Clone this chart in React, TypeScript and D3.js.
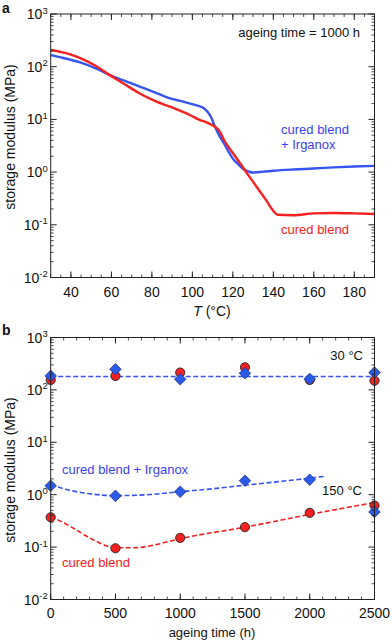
import React from "react";
import * as d3 from "d3";

// ---------- Panel a: storage modulus vs temperature (ageing time = 1000 h) ----------
const blueT = [30, 35, 40, 46, 52, 59, 66, 74, 82, 89, 95, 99, 103, 105.5, 107.5, 109.5, 111, 113, 116, 118, 120, 122, 124, 126, 128, 130, 135, 140, 150, 160, 170, 180, 190];
const blueE = [166, 150, 135, 116, 94, 70, 55, 42, 32, 25, 22, 20, 18, 16.5, 14, 10.5, 7.5, 5.2, 3.3, 2.4, 1.8, 1.5, 1.25, 1.1, 1.02, 0.98, 1.02, 1.06, 1.12, 1.17, 1.23, 1.28, 1.31];
const redT = [30, 35, 40, 46, 52, 59, 66, 74, 82, 89, 95, 99, 103, 107, 111, 113, 116, 120, 124, 128, 132, 136, 140, 142, 150, 160, 170, 180, 190];
const redE = [207, 190, 170, 138, 105, 70, 48, 31, 22, 17.4, 14, 12, 10, 8.8, 7.3, 6.3, 3.85, 2.3, 1.4, 0.84, 0.51, 0.31, 0.184, 0.155, 0.152, 0.165, 0.168, 0.165, 0.16];

const topXTicks = [40, 60, 80, 100, 120, 140, 160, 180];
const decades = [-2, -1, 0, 1, 2, 3];

// ---------- Panel b: storage modulus vs ageing time ----------
const ageTime = [0, 500, 1000, 1500, 2000, 2500];
const red30 = [155, 185, 214, 270, 155, 150];
const blue30 = [185, 247, 160, 208, 162, 214];
const red150 = [0.37, 0.095, 0.15, 0.24, 0.45, 0.62];
const blue150 = [1.48, 0.95, 1.14, 1.85, 1.93, 0.47];

const fit30T = [0, 2500];
const fit30E = [180, 180];
const blueFitT = [0, 150, 300, 500, 770, 1000, 1280, 1500, 1800, 2115];
const blueFitE = [1.55, 1.21, 1.04, 0.96, 1.01, 1.14, 1.32, 1.52, 1.82, 2.24];
const redFitT = [0, 150, 300, 500, 650, 800, 1000, 1500, 2000, 2500];
const redFitE = [0.386, 0.25, 0.15, 0.098, 0.097, 0.11, 0.145, 0.24, 0.42, 0.71];

const botXTicks = [0, 500, 1000, 1500, 2000, 2500];

const RED = "#f52020";
const BLUE = "#3654f0";
const BLUE_TXT = "#3a3ff0";
const AX = "#222";
const FONT = "'Liberation Sans', Arial, Helvetica, sans-serif";

type Pt = [number, number];

function LogYAxis({ y, x0, x1 }: { y: d3.ScaleLogarithmic<number, number>; x0: number; x1: number }) {
  const minor: number[] = [];
  for (let d = -2; d < 3; d++) for (let k = 2; k <= 9; k++) minor.push(k * Math.pow(10, d));
  return (
    <g>
      {minor.map((v, i) => (
        <g key={"m" + i}>
          <line x1={x0} x2={x0 + 3} y1={y(v)} y2={y(v)} stroke={AX} strokeWidth={0.8} />
          <line x1={x1} x2={x1 - 3} y1={y(v)} y2={y(v)} stroke={AX} strokeWidth={0.8} />
        </g>
      ))}
      {decades.map((d) => {
        const v = Math.pow(10, d);
        return (
          <g key={"M" + d}>
            <line x1={x0} x2={x0 + 6} y1={y(v)} y2={y(v)} stroke={AX} strokeWidth={1} />
            <line x1={x1} x2={x1 - 6} y1={y(v)} y2={y(v)} stroke={AX} strokeWidth={1} />
            <text x={x0 - 3} y={y(v) + 5} textAnchor="end" fontSize={14} fill="#111">
              10
              <tspan dy={-5.5} fontSize={9.5}>{String(d).replace("-", "-")}</tspan>
            </text>
          </g>
        );
      })}
    </g>
  );
}

function XTicks({ x, majors, minorStep, domain, y0, y1, labelY }: { x: d3.ScaleLinear<number, number>; majors: number[]; minorStep: number; domain: [number, number]; y0: number; y1: number; labelY: number }) {
  const minor = d3.range(domain[0], domain[1] + 0.001, minorStep);
  return (
    <g>
      {minor.map((v, i) => (
        <g key={"m" + i}>
          <line x1={x(v)} x2={x(v)} y1={y0} y2={y0 - 3} stroke={AX} strokeWidth={0.8} />
          <line x1={x(v)} x2={x(v)} y1={y1} y2={y1 + 3} stroke={AX} strokeWidth={0.8} />
        </g>
      ))}
      {majors.map((v) => (
        <g key={"M" + v}>
          <line x1={x(v)} x2={x(v)} y1={y0} y2={y0 - 6} stroke={AX} strokeWidth={1} />
          <line x1={x(v)} x2={x(v)} y1={y1} y2={y1 + 6} stroke={AX} strokeWidth={1} />
          <text x={x(v)} y={labelY} textAnchor="middle" fontSize={14} fill="#111">{v}</text>
        </g>
      ))}
    </g>
  );
}

function diamond(cx: number, cy: number, r: number) {
  return `M${cx},${cy - r}L${cx + r},${cy}L${cx},${cy + r}L${cx - r},${cy}Z`;
}

export default function App() {
  const L = 50.7, R = 374.5;
  // panel a
  const xa = d3.scaleLinear().domain([30, 190]).range([L, R]);
  const ya = d3.scaleLog().domain([0.01, 1000]).range([277.5, 14]);
  const lineA = d3.line<Pt>().x((d) => xa(d[0])).y((d) => ya(d[1])).curve(d3.curveMonotoneX);
  const blueA: Pt[] = blueT.map((t, i) => [t, blueE[i]]);
  const redA: Pt[] = redT.map((t, i) => [t, redE[i]]);

  // panel b
  const xb = d3.scaleLinear().domain([0, 2500]).range([L, R]);
  const yb = d3.scaleLog().domain([0.01, 1000]).range([599.5, 337.5]);
  const lineB = d3.line<Pt>().x((d) => xb(d[0])).y((d) => yb(d[1])).curve(d3.curveMonotoneX);
  const f30: Pt[] = fit30T.map((t, i) => [t, fit30E[i]]);
  const bFit: Pt[] = blueFitT.map((t, i) => [t, blueFitE[i]]);
  const rFit: Pt[] = redFitT.map((t, i) => [t, redFitE[i]]);

  return (
    <svg width={392} height={644} style={{ position: "absolute", left: 0, top: 0, fontFamily: FONT }}>
      <rect width={392} height={644} fill="#fff" />
      {/* ---------- panel a ---------- */}
      <text x={2} y={13} fontSize={14} fontWeight="bold" fill="#111">a</text>
      <defs>
        <clipPath id="clipA"><rect x={L} y={14} width={R - L} height={277.5 - 14} /></clipPath>
        <clipPath id="clipB"><rect x={L - 8} y={337.5} width={R - L + 16} height={599.5 - 337.5} /></clipPath>
      </defs>
      <g clipPath="url(#clipA)">
        <path d={lineA(blueA) || ""} fill="none" stroke={BLUE} strokeWidth={2.4} />
        <path d={lineA(redA) || ""} fill="none" stroke={RED} strokeWidth={2.4} />
      </g>
      <rect x={L} y={14} width={R - L} height={277.5 - 14} fill="none" stroke={AX} strokeWidth={1} />
      <LogYAxis y={ya} x0={L} x1={R} />
      <XTicks x={xa} majors={topXTicks} minorStep={5} domain={[30, 190]} y0={277.5} y1={14} labelY={296.5} />
      <text transform="translate(15,137) rotate(-90)" textAnchor="middle" fontSize={14} fill="#111">storage modulus (MPa)</text>
      <text x={212} y={316} textAnchor="middle" fontSize={14} fill="#111">
        <tspan fontStyle="italic">T</tspan> (°C)
      </text>
      <text x={360} y={37} textAnchor="end" fontSize={13} fill="#111">ageing time = 1000 h</text>
      <text x={281} y={134} fontSize={13} fill={BLUE_TXT}>cured blend</text>
      <text x={281} y={149} fontSize={13} fill={BLUE_TXT}>+ Irganox</text>
      <text x={281} y={234} fontSize={13} fill={RED}>cured blend</text>

      {/* ---------- panel b ---------- */}
      <text x={2} y={335} fontSize={14} fontWeight="bold" fill="#111">b</text>
      <g clipPath="url(#clipB)">
        <path d={lineB(f30) || ""} fill="none" stroke={BLUE} strokeWidth={1.6} strokeDasharray="5,2.5" />
        <path d={lineB(bFit) || ""} fill="none" stroke={BLUE} strokeWidth={1.6} strokeDasharray="5,2.5" />
        <path d={lineB(rFit) || ""} fill="none" stroke={RED} strokeWidth={1.6} strokeDasharray="5,2.5" />
        {ageTime.map((t, i) => (
          <circle key={"r30" + i} cx={xb(t)} cy={yb(red30[i])} r={4.6} fill={RED} stroke="#222" strokeWidth={0.9} />
        ))}
        {ageTime.map((t, i) => (
          <path key={"b30" + i} d={diamond(xb(t), yb(blue30[i]), 5.8)} fill="#2a5be8" stroke="#1a2a80" strokeWidth={0.7} />
        ))}
        {ageTime.map((t, i) => (
          <circle key={"r150" + i} cx={xb(t)} cy={yb(red150[i])} r={4.6} fill={RED} stroke="#222" strokeWidth={0.9} />
        ))}
        {ageTime.map((t, i) => (
          <path key={"b150" + i} d={diamond(xb(t), yb(blue150[i]), 5.8)} fill="#2a5be8" stroke="#1a2a80" strokeWidth={0.7} />
        ))}
      </g>
      <rect x={L} y={337.5} width={R - L} height={599.5 - 337.5} fill="none" stroke={AX} strokeWidth={1} />
      <LogYAxis y={yb} x0={L} x1={R} />
      <XTicks x={xb} majors={botXTicks} minorStep={100} domain={[0, 2500]} y0={599.5} y1={337.5} labelY={618} />
      <text transform="translate(15,470) rotate(-90)" textAnchor="middle" fontSize={14} fill="#111">storage modulus (MPa)</text>
      <text x={212} y={637} textAnchor="middle" fontSize={13} fill="#111">ageing time (h)</text>
      <text x={363} y={360} textAnchor="end" fontSize={13} fill="#111">30 °C</text>
      <text x={362} y={495} textAnchor="end" fontSize={13} fill="#111">150 °C</text>
      <text x={62} y={474} fontSize={13} fill={BLUE_TXT}>cured blend + Irganox</text>
      <text x={62} y={567} fontSize={13} fill={RED}>cured blend</text>
    </svg>
  );
}
